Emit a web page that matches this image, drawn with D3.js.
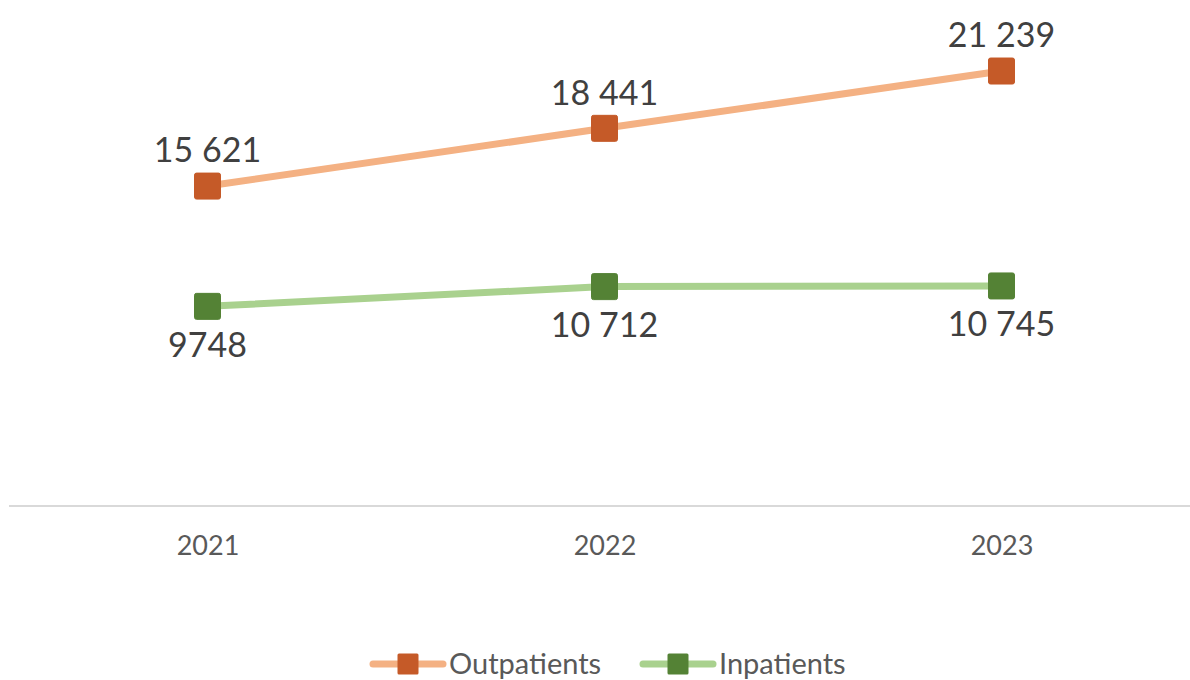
<!DOCTYPE html>
<html>
<head>
<meta charset="utf-8">
<script src="https://cdn.jsdelivr.net/npm/d3@7"></script>
<style>
  html, body { margin: 0; padding: 0; background: #ffffff; }
  svg { display: block; font-family: Lato, "Open Sans", sans-serif; }
</style>
</head>
<body>
<svg id="chart" width="1190" height="680"></svg>
<script>
// Patient counts per year
const years = ["2021", "2022", "2023"];
const outpatients = [15621, 18441, 21239];
const inpatients = [9748, 10712, 10745];
const seriesNames = ["Outpatients", "Inpatients"];

const series = [
  { name: seriesNames[0], values: outpatients, line: "#F4B183", marker: "#C55A28", labelPos: "above" },
  { name: seriesNames[1], values: inpatients, line: "#A9D18E", marker: "#548235", labelPos: "below" }
];

const svg = d3.select("#chart");

const x = d3.scalePoint().domain(years).range([9, 1200]).padding(0.5);
const y = d3.scaleLinear().domain([0, 25000]).range([506, -6]);

// Numbers of five digits or more get a space as thousands separator
const spaced = d3.formatLocale({ decimal: ",", thousands: "\u00a0", grouping: [3], currency: ["", ""] }).format(",d");
const fmt = v => v >= 10000 ? spaced(v).replace(/\u00a0/g, " ") : String(v);

// Category axis
const xAxis = svg.append("g").attr("transform", `translate(0,${y(0)})`)
  .call(d3.axisBottom(x).tickSize(0).tickPadding(30));
xAxis.select(".domain").attr("d", "M9,0H1200").attr("stroke", "#d9d9d9").attr("stroke-width", 2);
xAxis.selectAll(".tick text")
  .attr("font-family", "Lato, sans-serif")
  .attr("font-size", 27)
  .attr("fill", "#595959");

const line = d3.line().x((d, i) => x(years[i])).y(d => y(d));

const markerSize = 26;

series.forEach(s => {
  const g = svg.append("g");
  g.append("path")
    .datum(s.values)
    .attr("d", line)
    .attr("fill", "none")
    .attr("stroke", s.line)
    .attr("stroke-width", 7)
    .attr("stroke-linejoin", "round")
    .attr("stroke-linecap", "round");

  g.selectAll("rect")
    .data(s.values)
    .join("rect")
    .attr("x", (d, i) => x(years[i]) - markerSize / 2)
    .attr("y", d => y(d) - markerSize / 2)
    .attr("width", markerSize)
    .attr("height", markerSize)
    .attr("rx", 2)
    .attr("fill", s.marker)
    .attr("stroke", s.marker)
    .attr("stroke-width", 1);

  g.selectAll("text")
    .data(s.values)
    .join("text")
    .attr("x", (d, i) => x(years[i]))
    .attr("y", d => y(d) + (s.labelPos === "above" ? -36 : 38))
    .attr("dy", "0.36em")
    .attr("text-anchor", "middle")
    .attr("font-size", 34)
    .attr("fill", "#404040")
    .text(d => fmt(d));
});

// Legend
const legend = svg.append("g").attr("transform", "translate(0,664)");
const legendItems = [
  { s: series[0], x0: 370 },
  { s: series[1], x0: 640 }
];
legendItems.forEach(({ s, x0 }) => {
  const item = legend.append("g").attr("transform", `translate(${x0},0)`);
  item.append("line")
    .attr("x1", 3).attr("x2", 73).attr("y1", 0).attr("y2", 0)
    .attr("stroke", s.line).attr("stroke-width", 7).attr("stroke-linecap", "round");
  item.append("rect")
    .attr("x", 38 - 10.5).attr("y", -10.5).attr("width", 21).attr("height", 21)
    .attr("rx", 1.5).attr("fill", s.marker);
  item.append("text")
    .attr("x", 79).attr("y", 0).attr("dy", "0.36em")
    .attr("font-size", 29)
    .attr("fill", "#595959")
    .text(s.name);
});
</script>
</body>
</html>
